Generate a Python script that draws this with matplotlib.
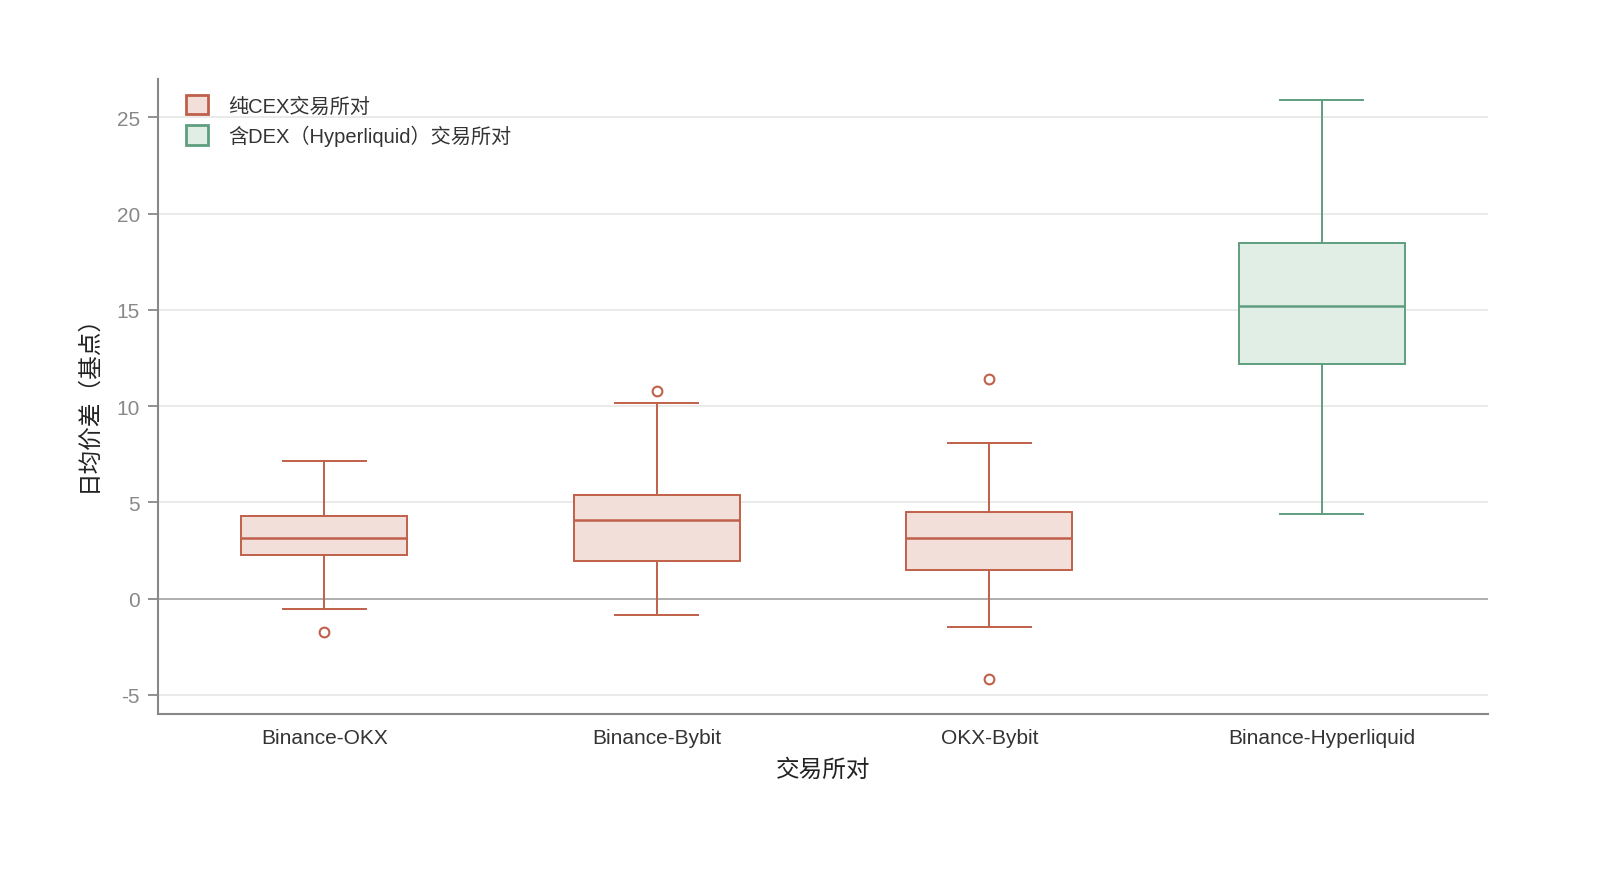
import matplotlib
matplotlib.use('Agg')
import matplotlib.pyplot as plt
from matplotlib.patches import Patch

plt.rcParams['font.family'] = ['Liberation Sans', 'Noto Sans CJK SC', 'DejaVu Sans']
plt.rcParams['axes.unicode_minus'] = False

# 各交易所对的箱线统计
pairs = ['Binance-OKX', 'Binance-Bybit', 'OKX-Bybit', 'Binance-Hyperliquid']
whislo = [-0.52, -0.83, -1.5, 4.41]
q1 = [2.28, 1.97, 1.5, 12.19]
med = [3.16, 4.1, 3.16, 15.2]
q3 = [4.3, 5.39, 4.51, 18.46]
whishi = [7.16, 10.17, 8.09, 25.93]
fliers = [[-1.76], [10.79], [11.41, -4.2], []]
is_dex = [False, False, False, True]

red = '#C0604A'
red_fill = '#F2DFDA'
green = '#5E9E7E'
green_fill = '#E1EEE6'

fig = plt.figure(figsize=(16, 8.78), dpi=100)
ax = fig.add_axes([0.09875, 0.1856, 0.83125, 0.7233])

for i, name in enumerate(pairs):
    st = dict(label=name, whislo=whislo[i], q1=q1[i], med=med[i],
              q3=q3[i], whishi=whishi[i], fliers=fliers[i])
    ec = green if is_dex[i] else red
    fc = green_fill if is_dex[i] else red_fill
    ax.bxp([st], positions=[i], widths=0.5, patch_artist=True, showfliers=True,
           boxprops=dict(facecolor=fc, edgecolor=ec, linewidth=1.4),
           medianprops=dict(color=ec, linewidth=1.8),
           whiskerprops=dict(color=ec, linewidth=1.4),
           capprops=dict(color=ec, linewidth=1.4),
           capwidths=0.25,
           flierprops=dict(marker='o', markerfacecolor='none', markeredgecolor=ec,
                           markersize=7, markeredgewidth=1.5))

ax.set_xlim(-0.5, 3.5)
ax.set_ylim(-6, 27)
ax.set_yticks([-5, 0, 5, 10, 15, 20, 25])
ax.set_xticks(range(4))
ax.set_xticklabels(pairs)
ax.grid(axis='y', color='#E6E6E6', linewidth=1.2)
ax.set_axisbelow(True)
ax.axhline(0, color='#AAAAAA', linewidth=1.3, zorder=1)

for s in ['top', 'right']:
    ax.spines[s].set_visible(False)
for s in ['left', 'bottom']:
    ax.spines[s].set_color('#888888')
    ax.spines[s].set_linewidth(1.5)

ax.tick_params(axis='y', colors='#888888', labelsize=15, length=7, width=1.3,
               labelcolor='#888888', pad=6)
ax.tick_params(axis='x', length=0, labelsize=15, labelcolor='#333333', pad=10)

ax.set_xlabel('交易所对', fontsize=17, color='#222222', labelpad=8)
ax.set_ylabel('日均价差（基点）', fontsize=17, color='#222222', labelpad=12)

handles = [Patch(facecolor=red_fill, edgecolor=red, linewidth=2, label='纯CEX交易所对'),
           Patch(facecolor=green_fill, edgecolor=green, linewidth=2, label='含DEX（Hyperliquid）交易所对')]
leg = ax.legend(handles=handles, loc='upper left', frameon=False, fontsize=14.5,
                handlelength=1.1, handleheight=1.1, handletextpad=1.0,
                labelspacing=0.45, borderaxespad=0.4, bbox_to_anchor=(0.009, 1.0))
for t in leg.get_texts():
    t.set_color('#333333')

fig.savefig('out.png', dpi=100)
